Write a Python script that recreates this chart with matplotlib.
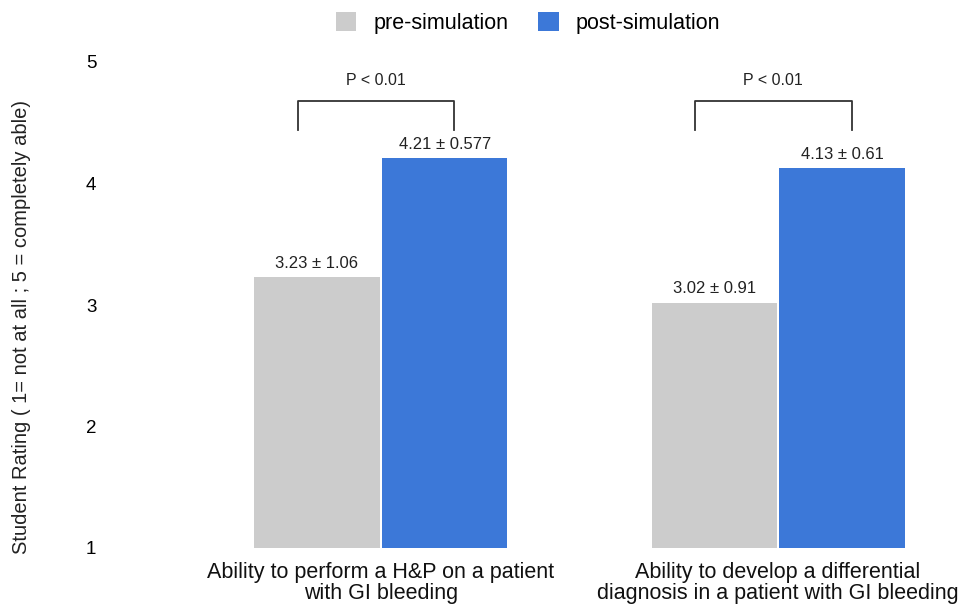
import matplotlib.pyplot as plt
import numpy as np

plt.rcParams['font.family'] = ['Liberation Sans', 'DejaVu Sans']

# data
categories = ["Ability to perform a H&P on a patient\nwith GI bleeding",
              "Ability to develop a differential\ndiagnosis in a patient with GI bleeding"]
pre_mean = [3.23, 3.02]
pre_sd = [1.06, 0.91]
post_mean = [4.21, 4.13]
post_sd = ["0.577", "0.61"]
p_text = ["P < 0.01", "P < 0.01"]

pre_color = "#cccccc"
post_color = "#3c78d8"

fig = plt.figure(figsize=(9.64, 6.05), dpi=100)
ax = fig.add_axes([120/964, 57/605, 840/964, 486/605])

x = np.arange(len(categories))
w = 0.315
off = 0.161
base = 1
ax.bar(x - off, np.array(pre_mean) - base, w, bottom=base, color=pre_color, label="pre-simulation")
ax.bar(x + off, np.array(post_mean) - base, w, bottom=base, color=post_color, label="post-simulation")

for i in range(len(categories)):
    ax.text(x[i] - off, pre_mean[i] + 0.05, f"{pre_mean[i]:.2f} ± {pre_sd[i]:.2f}",
            ha="center", va="bottom", fontsize=12, color="#222222")
    ax.text(x[i] + off, post_mean[i] + 0.05, f"{post_mean[i]:.2f} ± {post_sd[i]}",
            ha="center", va="bottom", fontsize=12, color="#222222")
    # significance bracket
    x0, x1 = x[i] - 0.21, x[i] + 0.185
    ax.plot([x0, x0, x1, x1], [4.44, 4.68, 4.68, 4.44], color="#333333", lw=1.3)
    ax.text((x0 + x1) / 2, 4.79, p_text[i], ha="center", va="bottom", fontsize=11.5, color="#222222")

ax.set_xlim(-0.657, 1.458)
ax.set_ylim(1, 5)
ax.set_yticks([1, 2, 3, 4, 5])
ax.set_xticks(x)
ax.set_xticklabels(categories, color="#111111", linespacing=1.0)
ax.tick_params(axis="both", length=0)
ax.tick_params(axis="x", labelsize=15.5, pad=10)
ax.tick_params(axis="y", labelsize=13.5, pad=17)
for s in ax.spines.values():
    s.set_visible(False)

ax.set_ylabel("Student Rating ( 1= not at all ; 5 = completely able)", fontsize=14.5,
              color="#222222")
ax.yaxis.set_label_coords(-0.106, 0.455)

fig.legend(loc="upper center", bbox_to_anchor=(528/964, 1.012), ncol=2, frameon=False,
           fontsize=15.5, handlelength=0.95, handleheight=0.95, columnspacing=1.4, handletextpad=0.8)

fig.savefig("out.png", dpi=100)
